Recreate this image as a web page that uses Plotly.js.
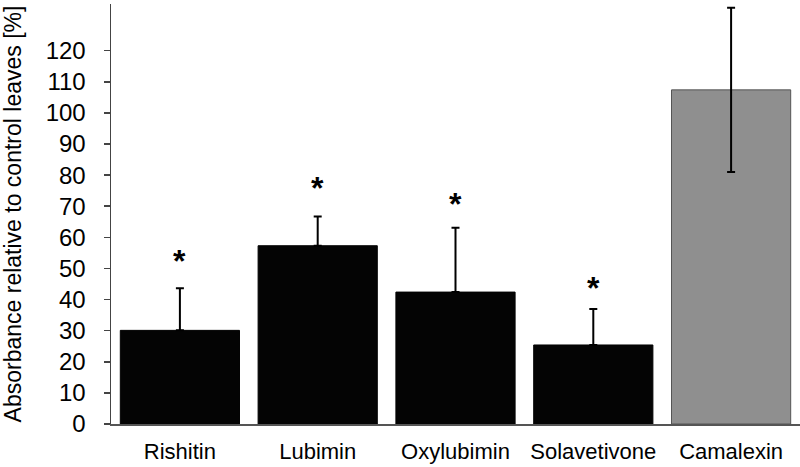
<!DOCTYPE html>
<html>
<head>
<meta charset="utf-8">
<script src="https://cdn.plot.ly/plotly-3.0.1.min.js"></script>
<style>html,body{margin:0;padding:0;background:#fff;}#chart{width:800px;height:467px;}</style>
</head>
<body>
<div id="chart"></div>
<script>
var categories = ["Rishitin", "Lubimin", "Oxylubimin", "Solavetivone", "Camalexin"];
var values = [30.1, 57.3, 42.4, 25.4, 107.4];
var errors = [13.5, 9.4, 20.7, 11.6, 26.4];
var barColors = ["#040404", "#040404", "#040404", "#040404", "#8f8f8f"];
var barLineColors = ["#040404", "#040404", "#040404", "#040404", "#555555"];
var significant = [true, true, true, true, false];
var starValues = [54.3, 77.9, 72.8, 45.6, null];
var yTicks = [0, 10, 20, 30, 40, 50, 60, 70, 80, 90, 100, 110, 120];

// lower whiskers are hidden inside the black bars in the original figure
var errorsMinus = errors.map(function (e, i) { return barColors[i] === "#040404" ? 0 : e; });

var annotations = [];
for (var i = 0; i < categories.length; i++) {
  if (significant[i]) {
    annotations.push({
      x: categories[i], y: starValues[i], xref: 'x', yref: 'y',
      text: '<b>*</b>', showarrow: false, yanchor: 'middle', yshift: -6,
      font: {family: 'Liberation Sans, Arial, sans-serif', size: 32, color: '#000'}
    });
  }
}

var trace = {
  type: 'bar',
  x: categories,
  y: values,
  marker: {color: barColors, line: {color: barLineColors, width: 1}},
  error_y: {type: 'data', array: errors, arrayminus: errorsMinus, symmetric: false, color: '#000', thickness: 2, width: 4},
  hoverinfo: 'none'
};

var layout = {
  width: 800, height: 467,
  margin: {l: 111, r: 0, t: 4, b: 43},
  paper_bgcolor: '#fff', plot_bgcolor: '#fff',
  showlegend: false,
  bargap: 0.135,
  font: {family: 'Liberation Sans, Arial, sans-serif', color: '#000'},
  xaxis: {
    range: [-0.5, 4.5],
    showline: true, linecolor: '#555', linewidth: 1.5,
    ticks: '', showgrid: false, zeroline: false,
    tickfont: {size: 22, color: '#000'},
    ticklabelstandoff: 7
  },
  yaxis: {
    range: [0, 135],
    tickvals: yTicks, ticktext: yTicks.map(String),
    showline: true, linecolor: '#444', linewidth: 1.5,
    ticks: 'outside', ticklen: 6, tickwidth: 1.5, tickcolor: '#444',
    showgrid: false, zeroline: false,
    tickfont: {size: 24, color: '#000'},
    ticklabelstandoff: 13,
    title: {text: 'Absorbance relative to control leaves [%]', font: {size: 23, color: '#000'}, standoff: 17}
  },
  annotations: annotations
};

Plotly.newPlot('chart', [trace], layout, {displayModeBar: false, staticPlot: true});
</script>
</body>
</html>
